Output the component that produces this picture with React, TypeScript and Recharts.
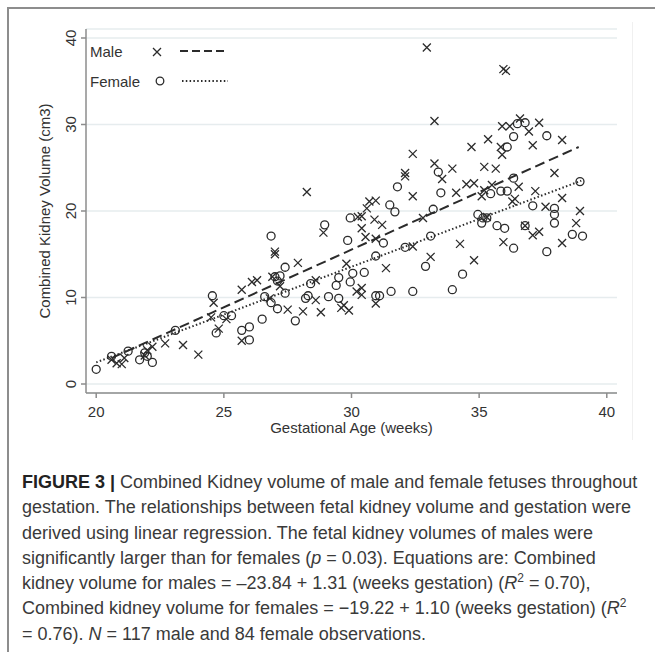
import { ScatterChart, Scatter, XAxis, YAxis, CartesianGrid, Label } from 'recharts';

// readings: [weeks, volume cm3]
const malePoints: [number, number][] = [
  [20.6, 2.8], [20.8, 2.4], [21.0, 2.3], [21.1, 3.0], [21.9, 3.3], [22.0, 3.9], [22.2, 4.3], [22.7, 4.7],
  [23.4, 4.5], [24.0, 3.4], [24.5, 7.7], [24.6, 9.4], [24.8, 6.4], [25.1, 7.5], [25.7, 10.9], [25.7, 5.0],
  [26.1, 11.8], [26.3, 12.0], [26.8, 9.9], [27.0, 15.3], [27.0, 15.0], [26.9, 12.4], [27.2, 11.3], [27.5, 8.6],
  [27.9, 14.0], [28.1, 8.4], [28.25, 22.2], [28.6, 12.0], [28.6, 9.7], [28.8, 8.3], [28.9, 17.5], [29.6, 8.8],
  [29.7, 9.1], [29.9, 8.5], [29.8, 13.9], [30.2, 10.7], [30.4, 10.3], [30.4, 11.1], [30.25, 19.3], [30.4, 18.0],
  [30.4, 19.4], [30.55, 17.0], [30.6, 20.3], [30.7, 21.1], [30.95, 21.2], [30.9, 19.0], [30.95, 16.8], [30.95, 9.3],
  [31.2, 18.4], [31.35, 13.4], [32.1, 24.4], [32.1, 24.0], [32.4, 26.6], [32.4, 21.7], [32.4, 15.9], [32.8, 19.2],
  [32.95, 38.9], [33.1, 14.7], [33.25, 30.4], [33.25, 25.5], [33.55, 23.7], [33.95, 24.9], [34.1, 22.1], [34.25, 16.2],
  [34.5, 23.1], [34.7, 27.4], [34.8, 23.2], [34.8, 14.3], [35.1, 21.7], [35.2, 22.4], [35.2, 25.1], [35.3, 19.3],
  [35.35, 28.3], [35.5, 23.0], [35.65, 24.9], [35.85, 27.4], [35.9, 26.5], [35.9, 29.8], [35.95, 36.4], [35.95, 16.4],
  [36.05, 36.2], [36.2, 29.8], [36.3, 21.1], [36.4, 21.4], [36.55, 22.8], [36.6, 30.7], [36.8, 18.3], [36.95, 29.2],
  [37.1, 27.6], [37.1, 17.2], [37.2, 22.3], [37.35, 30.2], [37.35, 17.6], [37.6, 20.5], [37.95, 24.4], [38.25, 28.2],
  [38.25, 21.5], [38.25, 16.3], [38.8, 18.6], [38.95, 20.0],
];

const femalePoints: [number, number][] = [
  [20.0, 1.7], [20.6, 3.2], [21.25, 3.8], [21.7, 2.8], [21.9, 3.6], [22.0, 3.2], [22.2, 2.5], [23.1, 6.2],
  [24.55, 10.2], [24.7, 5.9], [25.0, 7.9], [25.3, 7.9], [25.7, 6.2], [26.0, 6.6], [26.0, 5.1], [26.5, 7.5],
  [26.6, 10.1], [26.85, 9.4], [26.85, 17.1], [27.0, 12.4], [27.1, 8.7], [27.1, 11.9], [27.2, 12.5], [27.4, 10.5],
  [27.4, 13.5], [27.8, 7.3], [28.2, 9.9], [28.3, 10.2], [28.4, 11.6], [28.95, 18.4], [29.1, 10.1], [29.4, 11.4],
  [29.5, 12.3], [29.5, 9.9], [29.85, 16.6], [29.95, 19.2], [29.95, 11.8], [30.05, 12.8], [30.5, 12.9], [30.95, 14.8],
  [30.95, 10.2], [31.1, 10.2], [31.25, 16.3], [31.5, 20.7], [31.55, 10.7], [31.7, 19.9], [31.8, 22.8], [32.1, 15.8],
  [32.4, 10.7], [32.9, 13.6], [33.1, 17.1], [33.2, 20.2], [33.4, 24.5], [33.5, 22.1], [33.95, 10.9], [34.35, 12.7],
  [34.95, 19.6], [35.1, 18.6], [35.15, 19.2], [35.3, 19.2], [35.45, 22.0], [35.7, 18.3], [35.85, 22.3], [36.0, 18.0],
  [36.1, 22.3], [36.1, 27.4], [36.35, 28.6], [36.35, 23.8], [36.35, 15.7], [36.5, 30.1], [36.8, 30.2], [36.8, 18.3],
  [37.1, 20.6], [37.65, 28.7], [37.65, 15.3], [37.95, 20.3], [37.95, 19.6], [37.95, 18.6], [38.65, 17.3], [38.95, 23.4],
  [39.05, 17.1],
];

// fitted lines, end points as drawn
const maleFit: [number, number][] = [[20.6, 3.0], [38.9, 27.4]];
const femaleFit: [number, number][] = [[20.0, 2.5], [39.0, 23.5]];

const xTicks = [20, 25, 30, 35, 40];
const yTicks = [0, 10, 20, 30, 40];

const toXY = (pts: [number, number][]) => pts.map(([x, y]) => ({ x, y }));

const INK = '#2b2b2b';
const AXIS = '#8c8c8c';
const FONT = '"Liberation Sans", Arial, sans-serif';

const Cross = (p: any) => {
  const { cx, cy } = p;
  const s = 4;
  return (
    <path
      d={`M${cx - s},${cy - s}L${cx + s},${cy + s}M${cx + s},${cy - s}L${cx - s},${cy + s}`}
      stroke={INK}
      strokeWidth={1.3}
      fill="none"
    />
  );
};

const Ring = (p: any) => <circle cx={p.cx} cy={p.cy} r={4} stroke={INK} strokeWidth={1.3} fill="none" />;

const NoDot = () => <g />;

const XTick = (p: any) => (
  <text x={p.x} y={p.y + 17} textAnchor="middle" fontSize={15} fill="#333" fontFamily={FONT}>
    {p.payload.value}
  </text>
);

const YTick = (p: any) => (
  <text
    x={p.x - 3}
    y={p.y}
    transform={`rotate(-90 ${p.x - 3} ${p.y})`}
    textAnchor="middle"
    fontSize={15}
    fill="#333"
    fontFamily={FONT}
  >
    {p.payload.value}
  </text>
);

const XTitle = (p: any) => {
  const vb = p.viewBox;
  return (
    <text x={vb.x + vb.width / 2} y={vb.y + 40} textAnchor="middle" fontSize={15} fill="#333" fontFamily={FONT}>
      Gestational Age (weeks)
    </text>
  );
};

const YTitle = (p: any) => {
  const vb = p.viewBox;
  const cy = vb.y + vb.height / 2;
  return (
    <text x={50} y={cy} transform={`rotate(-90 50 ${cy})`} textAnchor="middle" fontSize={15} fill="#333" fontFamily={FONT}>
      Combined Kidney Volume (cm3)
    </text>
  );
};

const Legend = () => (
  <svg width={170} height={62} style={{ position: 'absolute', left: 86, top: 38 }}>
    <text x={4} y={19} fontSize={15} fill="#333" fontFamily={FONT}>Male</text>
    <path d="M67,10L75,18M75,10L67,18" stroke={INK} strokeWidth={1.3} />
    <line x1={94} y1={13} x2={142} y2={13} stroke={INK} strokeWidth={2} strokeDasharray="8 4" />
    <text x={4} y={49} fontSize={15} fill="#333" fontFamily={FONT}>Female</text>
    <circle cx={74} cy={43} r={3.8} stroke={INK} strokeWidth={1.3} fill="none" />
    <line x1={96} y1={43} x2={142} y2={43} stroke={INK} strokeWidth={2} strokeDasharray="1.5 2.3" />
  </svg>
);

const captionLine = { whiteSpace: 'nowrap' as const, height: 25.3 };
const sup = { fontSize: 12, lineHeight: 0 };

export default function App() {
  return (
    <div style={{ position: 'absolute', left: 0, top: 0, width: 655, height: 652, overflow: 'hidden', background: '#fff' }}>
      <div
        style={{
          position: 'absolute',
          left: 7,
          top: 7,
          width: 700,
          height: 700,
          borderTop: '2px solid #8d8d8d',
          borderLeft: '2px solid #8d8d8d',
        }}
      />
      <div style={{ position: 'absolute', left: 632, top: 22, width: 1, height: 418, background: '#f0f0f0' }} />
      <div style={{ position: 'absolute', left: 0, top: 0 }}>
        <ScatterChart width={655} height={450} margin={{ top: 29, right: 38, left: 46, bottom: 17 }}>
          <CartesianGrid horizontal vertical={false} stroke="#e6ecee" strokeWidth={1.5} />
          <XAxis
            type="number"
            dataKey="x"
            domain={[19.6, 40.4]}
            ticks={xTicks}
            height={40}
            axisLine={{ stroke: AXIS, strokeWidth: 1.5 }}
            tickLine={{ stroke: AXIS, strokeWidth: 1.5 }}
            tickSize={5}
            tick={<XTick />}
          >
            <Label content={<XTitle />} />
          </XAxis>
          <YAxis
            type="number"
            dataKey="y"
            domain={[-1.04, 41.04]}
            ticks={yTicks}
            width={40}
            axisLine={{ stroke: AXIS, strokeWidth: 1.5 }}
            tickLine={{ stroke: AXIS, strokeWidth: 1.5 }}
            tickSize={5}
            tick={<YTick />}
          >
            <Label content={<YTitle />} />
          </YAxis>
          <Scatter data={toXY(femaleFit)} line={{ stroke: INK, strokeWidth: 2, strokeDasharray: '1.5 2.3' }} shape={<NoDot />} isAnimationActive={false} />
          <Scatter data={toXY(maleFit)} line={{ stroke: INK, strokeWidth: 2, strokeDasharray: '10 5' }} shape={<NoDot />} isAnimationActive={false} />
          <Scatter data={toXY(malePoints)} shape={<Cross />} isAnimationActive={false} />
          <Scatter data={toXY(femalePoints)} shape={<Ring />} isAnimationActive={false} />
        </ScatterChart>
      </div>
      <Legend />
      <div
        style={{
          position: 'absolute',
          left: 22,
          top: 470,
          fontFamily: FONT,
          fontSize: 18,
          lineHeight: '25.3px',
          color: '#3a3a3a',
        }}
      >
        <div style={captionLine}>
          <b style={{ color: '#222' }}>FIGURE 3 |</b> Combined Kidney volume of male and female fetuses throughout
        </div>
        <div style={captionLine}>gestation. The relationships between fetal kidney volume and gestation were</div>
        <div style={captionLine}>derived using linear regression. The fetal kidney volumes of males were</div>
        <div style={captionLine}>
          significantly larger than for females (<i>p</i> = 0.03). Equations are: Combined
        </div>
        <div style={captionLine}>
          kidney volume for males = –23.84 + 1.31 (weeks gestation) (<i>R</i>
          <sup style={sup}>2</sup> = 0.70),
        </div>
        <div style={captionLine}>
          Combined kidney volume for females = −19.22 + 1.10 (weeks gestation) (<i>R</i>
          <sup style={sup}>2</sup>
        </div>
        <div style={captionLine}>
          = 0.76). <i>N</i> = 117 male and 84 female observations.
        </div>
      </div>
    </div>
  );
}
